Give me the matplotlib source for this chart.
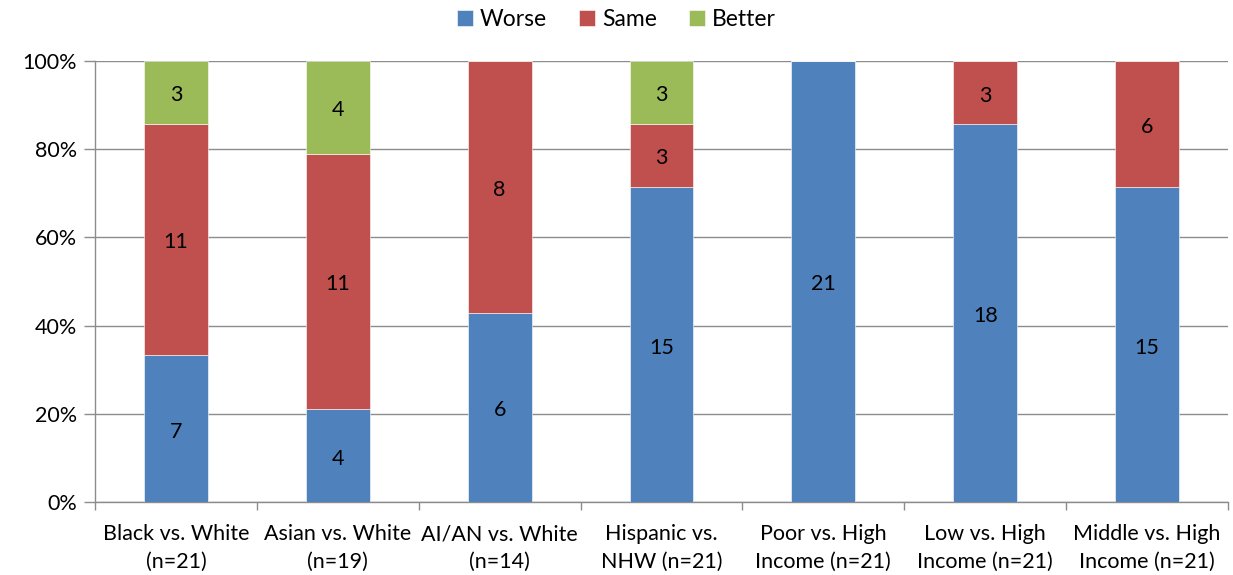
import numpy as np
import matplotlib.pyplot as plt
from matplotlib.ticker import FixedLocator

plt.rcParams['font.family'] = ['Lato', 'DejaVu Sans']

categories = ["Black vs. White\n(n=21)", "Asian vs. White\n(n=19)", "AI/AN vs. White\n(n=14)",
              "Hispanic vs.\nNHW (n=21)", "Poor vs. High\nIncome (n=21)", "Low vs. High\nIncome (n=21)",
              "Middle vs. High\nIncome (n=21)"]
n_total = [21, 19, 14, 21, 21, 21, 21]
worse = [7, 4, 6, 15, 21, 18, 15]
same = [11, 11, 8, 3, 0, 3, 6]
better = [3, 4, 0, 3, 0, 0, 0]

series = [("Worse", worse, "#4F81BD"), ("Same", same, "#C0504D"), ("Better", better, "#9BBB59")]

fig = plt.figure(figsize=(12.33, 5.75), dpi=100)
ax = fig.add_axes([95 / 1233, 73 / 575, 1133 / 1233, 441 / 575])

x = np.arange(len(categories))
n = np.array(n_total, dtype=float)
bottom = np.zeros(len(categories))
for name, counts, color in series:
    counts = np.array(counts, dtype=float)
    pct = counts / n * 100
    ax.bar(x, pct, 0.395, bottom=bottom, color=color, label=name,
           edgecolor="#ffffff", linewidth=0.4, zorder=3)
    for xi, c, b, p in zip(x, counts, bottom, pct):
        if c > 0:
            # nudge down a touch so the number sits at the visual middle
            ax.annotate(f"{int(c)}", (xi, b + p / 2), xytext=(0, -3),
                        textcoords="offset pixels", ha="center", va="center",
                        fontsize=15.5, color="black", zorder=4)
    bottom += pct

ax.set_xlim(-0.5, len(categories) - 0.5)
ax.set_ylim(0, 100)
ax.set_yticks(np.arange(0, 101, 20))
ax.set_yticklabels([f"{v}%" for v in range(0, 101, 20)], fontsize=15.5)
ax.yaxis.grid(True, color="#8c8c8c", linewidth=1.0, zorder=0)
ax.set_axisbelow(True)

ax.set_xticks(x)
ax.set_xticklabels(categories, fontsize=15.5, linespacing=1.5)
ax.tick_params(axis="x", length=0, pad=16)
ax.xaxis.set_minor_locator(FixedLocator(np.arange(-0.5, len(categories), 1.0)))
ax.tick_params(axis="x", which="minor", length=6, color="#8c8c8c", width=1)
ax.tick_params(axis="y", length=8, color="#8c8c8c", width=1, pad=5)

for side in ["top", "right"]:
    ax.spines[side].set_visible(False)
for side in ["left", "bottom"]:
    ax.spines[side].set_color("#8c8c8c")
    ax.spines[side].set_linewidth(1)

fig.legend(loc="upper center", bbox_to_anchor=(0.5, 1.02), ncol=3, frameon=False,
           fontsize=16.5, handlelength=0.7, handleheight=0.7, handletextpad=0.3,
           columnspacing=1.4)

fig.savefig("out.png", dpi=100)
